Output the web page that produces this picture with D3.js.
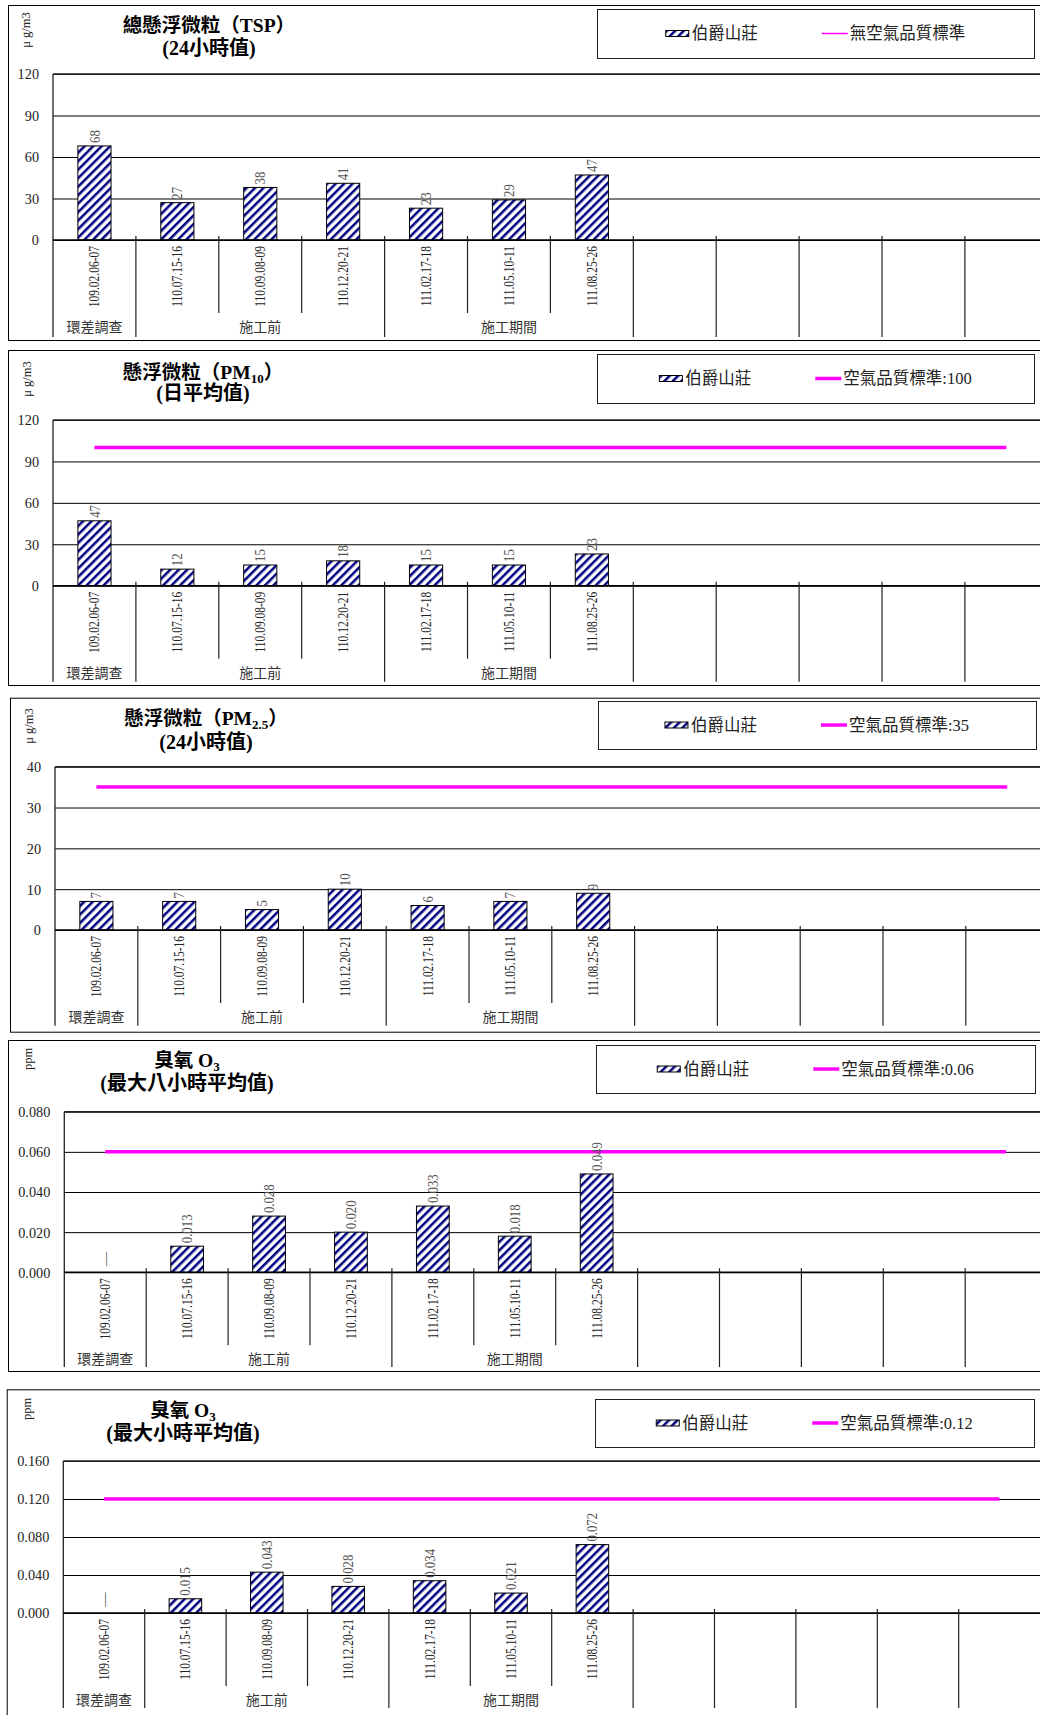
<!DOCTYPE html>
<html><head><meta charset="utf-8">
<script src="https://cdn.jsdelivr.net/npm/d3@7"></script>
<style>body{margin:0;background:#fff} svg{display:block}</style>
</head><body><svg id="c" width="1040" height="1715"></svg>
<script>
// ---------- DATA ----------
const categories = ["109.02.06-07","110.07.15-16","110.09.08-09","110.12.20-21","111.02.17-18","111.05.10-11","111.08.25-26"];
const emptySlots = 5;
const groupNames = ["環差調查","施工前","施工期間","","","","",""];
const groupSpans = [1,3,3,1,1,1,1,1];
const seriesName = "伯爵山莊";

const tspValues = [68,27,38,41,23,29,47];
const pm10Values = [47,12,15,18,15,15,23];
const pm25Values = [7,7,5,10,6,7,9];
const o3EightHourValues = [null,0.013,0.028,0.020,0.033,0.018,0.049];
const o3HourValues = [null,0.015,0.043,0.028,0.034,0.021,0.072];

const tspTicks = [0,30,60,90,120];
const pm10Ticks = [0,30,60,90,120];
const pm25Ticks = [0,10,20,30,40];
const o3EightHourTicks = [0,0.02,0.04,0.06,0.08];
const o3HourTicks = [0,0.04,0.08,0.12,0.16];

const pm10Standard = 100;
const pm25Standard = 35;
const o3EightHourStandard = 0.06;
const o3HourStandard = 0.12;

const tspTitle = [["總懸浮微粒（TSP）",false]];
const pm10Title = [["懸浮微粒（PM",false],["10",true],["）",false]];
const pm25Title = [["懸浮微粒（PM",false],["2.5",true],["）",false]];
const o3Title = [["臭氧  O",false],["3",true]];
const subTitles = ["(24小時值)","(日平均值)","(24小時值)","(最大八小時平均值)","(最大小時平均值)"];
const units = ["μ g/m3","μ g/m3","μ g/m3","ppm","ppm"];
const standardLegends = ["無空氣品質標準","空氣品質標準:100","空氣品質標準:35","空氣品質標準:0.06","空氣品質標準:0.12"];

// ---------- LAYOUT ----------
const layouts = [
  {bx:8, by:5, bb:340, left:53, top:74, base:240, cw:82.9, tx:209, t1:25, t2:48, ux:26, uy:30, lg:[597,9,1034,58], gb:337},
  {bx:8, by:350, bb:685, left:53, top:420, base:585.7, cw:82.9, tx:203, t1:372, t2:393, ux:27, uy:379, lg:[597,354,1034,403], gb:681.7},
  {bx:10, by:697.7, bb:1031.7, left:55, top:766.7, base:930, cw:82.8, tx:206, t1:718, t2:742, ux:29, uy:726, lg:[598,701,1036,749], gb:1025.7},
  {bx:8, by:1040, bb:1371, left:64.3, top:1111.7, base:1272.3, cw:81.9, tx:187, t1:1060, t2:1083, ux:28, uy:1059, lg:[596,1045,1035,1093], gb:1367},
  {bx:6.7, by:1389.3, bb:1730, left:63.3, top:1461, base:1613, cw:81.4, tx:183, t1:1410, t2:1433, ux:27, uy:1409, lg:[595,1399,1034,1447], gb:1708}
];

const panels = [
  {values:tspValues, ticks:tspTicks, standard:null, title:tspTitle, fmt:d3.format("d"), L:layouts[0]},
  {values:pm10Values, ticks:pm10Ticks, standard:pm10Standard, title:pm10Title, fmt:d3.format("d"), L:layouts[1]},
  {values:pm25Values, ticks:pm25Ticks, standard:pm25Standard, title:pm25Title, fmt:d3.format("d"), L:layouts[2]},
  {values:o3EightHourValues, ticks:o3EightHourTicks, standard:o3EightHourStandard, title:o3Title, fmt:d3.format(".3f"), L:layouts[3]},
  {values:o3HourValues, ticks:o3HourTicks, standard:o3HourStandard, title:o3Title, fmt:d3.format(".3f"), L:layouts[4]}
];

const SERIF = "'Liberation Serif','Noto Sans CJK TC',serif";
const CJK = "'Noto Sans CJK TC','Liberation Serif',sans-serif";
const NAVY = "#000080", MAGENTA = "#FF00FF";

const svg = d3.select("#c");
const defs = svg.append("defs");
const pat = defs.append("pattern").attr("id","hatch").attr("patternUnits","userSpaceOnUse")
  .attr("width",6).attr("height",6).attr("patternTransform","rotate(45)");
pat.append("rect").attr("width",6).attr("height",6).attr("fill","#fff");
pat.append("rect").attr("width",2.5).attr("height",6).attr("fill",NAVY);

panels.forEach((p, pi) => drawPanel(p, pi));

// condense text: tall, narrow glyphs like the original Ming-style font
function condense(sel, factor){
  sel.each(function(){
    const w = this.getComputedTextLength();
    if (w > 0) d3.select(this).attr("textLength", w * factor).attr("lengthAdjust","spacingAndGlyphs");
  });
}

function drawPanel(p, pi){
  const L = p.L;
  const g = svg.append("g");
  const n = categories.length + emptySlots;
  const W = n * L.cw;
  // outer border
  g.append("rect").attr("x",L.bx+0.5).attr("y",L.by+0.5).attr("width",1100).attr("height",L.bb-L.by)
    .attr("fill","none").attr("stroke","#000").attr("stroke-width",1);

  const x = d3.scaleBand().domain(d3.range(n)).range([L.left, L.left + W]).paddingInner(0.6).paddingOuter(0.3);
  const edge = d3.scaleLinear().domain([0, n]).range([L.left, L.left + W]);
  const y = d3.scaleLinear().domain([0, d3.max(p.ticks)]).range([L.base, L.top]);

  // gridlines + y labels
  const ax = g.append("g").attr("transform",`translate(${L.left},0)`)
    .call(d3.axisLeft(y).tickValues(p.ticks).tickFormat(p.fmt).tickSize(-W).tickPadding(14));
  ax.select(".domain").remove();
  ax.selectAll(".tick line").attr("stroke","#000").attr("stroke-width",1);
  ax.selectAll(".tick text").attr("font-family",SERIF).attr("font-size",15.5).attr("fill","#222");
  condense(ax.selectAll(".tick text"), 0.92);

  // plot area border (top + left)
  g.append("line").attr("x1",L.left).attr("x2",L.left+W).attr("y1",L.top).attr("y2",L.top).attr("stroke","#222").attr("stroke-width",1.5);
  g.append("line").attr("x1",L.left).attr("x2",L.left).attr("y1",L.top).attr("y2",L.gb).attr("stroke","#222").attr("stroke-width",1.3);

  // bars
  const rows = categories.map((c,i) => ({i, v:p.values[i]}));
  g.append("g").selectAll("rect").data(rows.filter(d => d.v != null)).join("rect")
    .attr("x", d => x(d.i)).attr("width", x.bandwidth())
    .attr("y", d => y(d.v)).attr("height", d => y(0) - y(d.v))
    .attr("fill","url(#hatch)").attr("stroke","#000").attr("stroke-width",1);

  // baseline
  g.append("line").attr("x1",L.left).attr("x2",L.left+W).attr("y1",L.base).attr("y2",L.base).attr("stroke","#000").attr("stroke-width",1.5);

  // standard line
  if (p.standard != null){
    g.append("line")
      .attr("x1", x(0) + x.bandwidth()/2).attr("x2", x(n-1) + x.bandwidth()/2)
      .attr("y1", y(p.standard)).attr("y2", y(p.standard))
      .attr("stroke", MAGENTA).attr("stroke-width", 3.5);
  }

  // value labels
  const vl = g.append("g").selectAll("text").data(rows).join("text")
    .attr("transform", d => `translate(${x(d.i)+x.bandwidth()/2},${y(d.v == null ? 0 : d.v) - (d.v == null ? 6 : 3)}) rotate(-90)`)
    .attr("dy","0.35em").attr("text-anchor","start")
    .attr("font-family",SERIF).attr("font-size",14.5).attr("fill","#555")
    .text(d => d.v == null ? "—" : p.fmt(d.v));
  condense(vl.filter(d => d.v != null), 0.88);

  // category labels
  const cl = g.append("g").selectAll("text").data(rows).join("text")
    .attr("transform", d => `translate(${x(d.i)+x.bandwidth()/2},${L.base+6}) rotate(-90)`)
    .attr("dy","0.35em").attr("text-anchor","end")
    .attr("font-family",SERIF).attr("font-size",14).attr("fill","#222")
    .text(d => categories[d.i]);
  condense(cl, 0.82);

  // separators
  const bounds = [0];
  groupSpans.forEach(s => bounds.push(bounds[bounds.length-1] + s));
  d3.range(1, n).forEach(k => {
    const isGroup = bounds.includes(k);
    g.append("line").attr("x1", edge(k)).attr("x2", edge(k))
      .attr("y1", L.base - 4).attr("y2", isGroup ? L.gb : L.base + 73)
      .attr("stroke","#222").attr("stroke-width",1.2);
  });
  // group labels
  g.append("g").selectAll("text").data(groupNames.map((nm,j)=>({nm, a:bounds[j], b:bounds[j+1]}))).join("text")
    .attr("x", d => (edge(d.a)+edge(d.b))/2).attr("y", L.base + 87).attr("dy","0.35em")
    .attr("text-anchor","middle").attr("font-family",CJK).attr("font-size",14).attr("fill","#333")
    .text(d => d.nm);

  // unit label
  g.append("text").attr("transform",`translate(${L.ux},${L.uy}) rotate(-90)`)
    .attr("text-anchor","middle").attr("dy","0.35em")
    .attr("font-family",SERIF).attr("font-size",12.5).attr("fill","#222").text(units[pi]);

  // title
  const t = g.append("text").attr("x",L.tx).attr("y",L.t1).attr("dy","0.35em").attr("text-anchor","middle")
    .attr("font-family",SERIF).attr("font-weight","bold").attr("font-size",19.5).attr("fill","#000");
  p.title.forEach(([s, sub], k) => {
    const ts = t.append("tspan").text(s);
    if (sub) ts.attr("font-size",13).attr("dy",4);
    else if (k > 0 && p.title[k-1][1]) ts.attr("dy",-4);
  });
  g.append("text").attr("x",L.tx).attr("y",L.t2).attr("dy","0.35em").attr("text-anchor","middle")
    .attr("font-family",SERIF).attr("font-weight","bold").attr("font-size",20).attr("fill","#000")
    .text(subTitles[pi]);

  // legend
  const [lx1, ly1, lx2, ly2] = L.lg;
  g.append("rect").attr("x",lx1+0.5).attr("y",ly1+0.5).attr("width",lx2-lx1).attr("height",ly2-ly1)
    .attr("fill","#fff").attr("stroke","#222").attr("stroke-width",1);
  const cy = (ly1 + ly2)/2;
  const lgG = g.append("g");
  const sw = lgG.append("rect").attr("y", cy-3).attr("width",23).attr("height",6)
    .attr("fill","url(#hatch)").attr("stroke","#000").attr("stroke-width",1);
  const t1 = lgG.append("text").attr("y",cy).attr("dy","0.35em").attr("font-family",CJK).attr("font-size",16.5).attr("fill","#222").text(seriesName);
  const ln = lgG.append("line").attr("y1",cy).attr("y2",cy).attr("stroke",MAGENTA).attr("stroke-width", p.standard == null ? 1.5 : 3.5);
  const t2 = lgG.append("text").attr("y",cy).attr("dy","0.35em").attr("font-family",SERIF).attr("font-size",16.5).attr("fill","#222").text(standardLegends[pi]);
  const w1 = t1.node().getComputedTextLength(), w2 = t2.node().getComputedTextLength();
  const total = 23 + 3 + w1 + 64 + 26 + 2 + w2;
  let sx = (lx1 + lx2)/2 - total/2;
  sw.attr("x", sx); sx += 26;
  t1.attr("x", sx); sx += w1 + 64;
  ln.attr("x1", sx).attr("x2", sx + 26); sx += 28;
  t2.attr("x", sx);
}
</script>
</body></html>
